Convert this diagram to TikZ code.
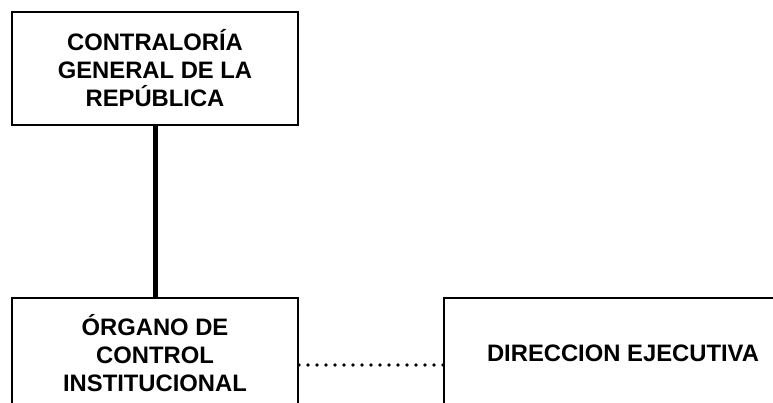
\documentclass[tikz,border=0pt]{standalone}
\usepackage{fontspec}
\setmainfont{Liberation Sans}
\begin{document}
\begin{tikzpicture}[x=1pt,y=1pt,
  orgbox/.style={draw=black,line width=2pt,fill=white,inner sep=0pt,align=center,
    font=\bfseries\fontsize{23.8}{28}\selectfont},
  thickline/.style={line width=5pt},
  dotline/.style={line width=3.6pt,dash pattern=on 0pt off 9pt,line cap=round}]
\useasboundingbox (0,0) rectangle (773,-403);
\clip (0,0) rectangle (773,-403);
\node[orgbox,minimum width=286pt,minimum height=113pt] (cgr) at (155,-68.5)
  {CONTRALORÍA\\GENERAL DE LA\\REPÚBLICA};
\node[orgbox,minimum width=286pt,minimum height=110pt] (oci) at (155,-353)
  {ÓRGANO DE\\CONTROL\\INSTITUCIONAL};
\node[orgbox,minimum width=358pt,minimum height=110pt] (de) at (623,-353)
  {DIRECCION EJECUTIVA};
\draw[thickline] (cgr.south) -- (oci.north);
\draw[dotline] ([yshift=-12pt]oci.east) -- ([yshift=-12pt]de.west);
\end{tikzpicture}
\end{document}
